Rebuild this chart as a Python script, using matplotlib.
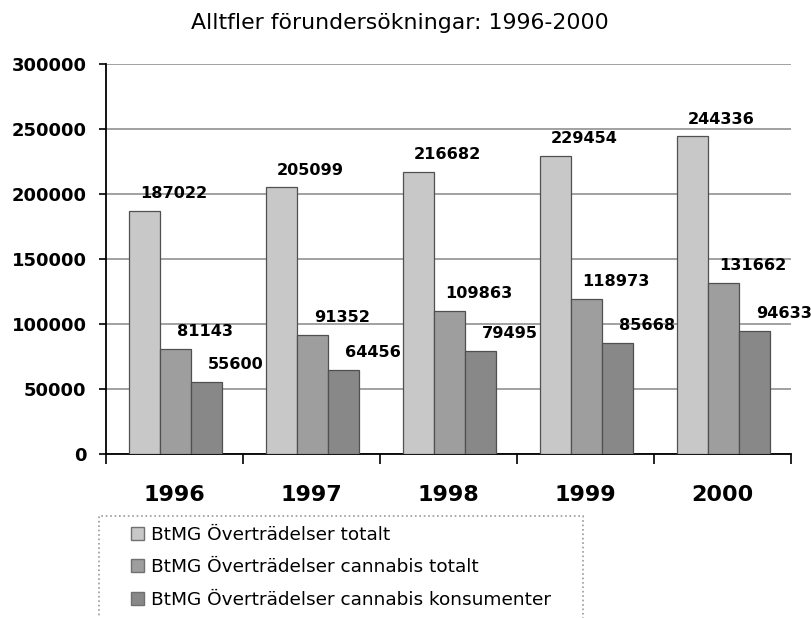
import matplotlib
matplotlib.use("Agg")
import matplotlib.pyplot as plt
from matplotlib.patches import Patch, Rectangle
import numpy as np

# data
years = ['1996', '1997', '1998', '1999', '2000']
totalt = [187022, 205099, 216682, 229454, 244336]
cannabis_totalt = [81143, 91352, 109863, 118973, 131662]
cannabis_konsumenter = [55600, 64456, 79495, 85668, 94633]
labels = ['BtMG Överträdelser totalt',
          'BtMG Överträdelser cannabis totalt',
          'BtMG Överträdelser cannabis konsumenter']
colors = ['#c8c8c8', '#9e9e9e', '#888888']
yticks = [0, 50000, 100000, 150000, 200000, 250000, 300000]

plt.rcParams['font.family'] = 'DejaVu Sans'

fig = plt.figure(figsize=(8.12, 6.18), dpi=100)
ax = fig.add_axes([106/812, 1-454/618, 685/812, 390/618])

x = np.arange(len(years))
w = 0.226
series = [totalt, cannabis_totalt, cannabis_konsumenter]
for i, vals in enumerate(series):
    pos = x + (i - 1) * w + 0.007
    ax.bar(pos, vals, w, color=colors[i], edgecolor='#505050', linewidth=0.9, zorder=3)
    for px, v in zip(pos, vals):
        ax.annotate(str(v), (px, v), xytext=(21, 12.5), textcoords='offset points',
                    ha='center', va='center', fontsize=11.6, fontweight='bold', zorder=4)

ax.set_xlim(-0.5, len(years) - 0.5)
ax.set_ylim(0, 300000)
ax.set_yticks(yticks)
ax.set_yticklabels([str(t) for t in yticks], fontsize=13, fontweight='bold')
ax.yaxis.grid(True, color='#9a9a9a', linewidth=1.3, zorder=0)

ax.set_xticks(x)
ax.set_xticklabels(years, fontsize=16, fontweight='bold')
ax.set_xticks(np.arange(-0.5, len(years)), minor=True)
ax.tick_params(axis='x', which='major', length=0, pad=22)
ax.tick_params(axis='x', which='minor', length=7, width=1.2, direction='out')
ax.tick_params(axis='y', length=5, width=1.2, direction='out', pad=9)

for s in ['top', 'right']:
    ax.spines[s].set_visible(False)
for s in ['left', 'bottom']:
    ax.spines[s].set_linewidth(1.3)
    ax.spines[s].set_color('black')

fig.text(400/812, 1-23/618, 'Alltfler förundersökningar: 1996-2000',
         ha='center', va='center', fontsize=15.8)

# legend box runs off the bottom of the picture
fig.patches.append(Rectangle((99/812, -0.05), (583-99)/812, 1-516/618+0.05,
                             transform=fig.transFigure, fill=False,
                             edgecolor='#999999', linestyle=':', linewidth=1.2))
handles = [Patch(facecolor=c, edgecolor='#707070') for c in colors]
fig.legend(handles, labels, loc='upper left', bbox_to_anchor=(131/812, 1-526/618),
           frameon=False, fontsize=13.3, handlelength=0.7, handleheight=0.7,
           handletextpad=0.4, labelspacing=0.78, borderpad=0, borderaxespad=0)

fig.savefig('out.png', dpi=100)
